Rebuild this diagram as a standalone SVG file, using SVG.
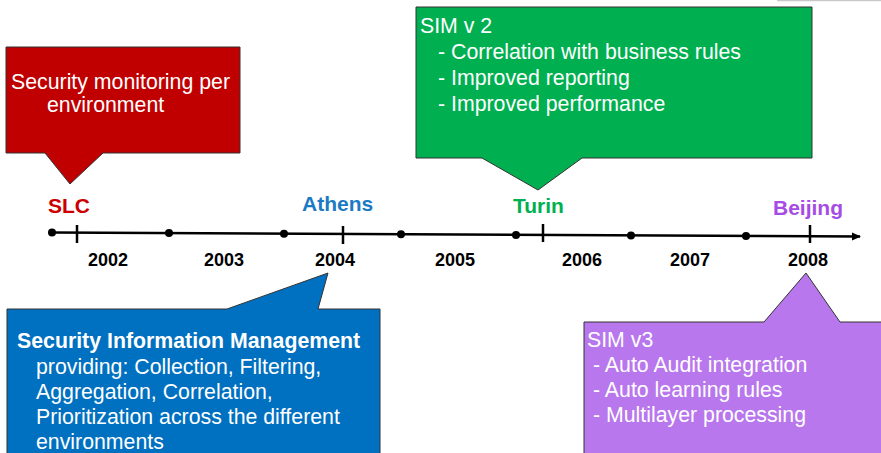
<svg xmlns="http://www.w3.org/2000/svg" width="881" height="453" viewBox="0 0 881 453">
<defs>
<style>
.box{stroke:#333;stroke-width:1}
.t{font-family:"Liberation Sans",Arial,sans-serif;font-size:21.3px;fill:#fff}
.b{font-weight:bold}
.yr{font-family:"Liberation Sans",Arial,sans-serif;font-size:18px;font-weight:bold;fill:#000;text-anchor:middle}
.city{font-family:"Liberation Sans",Arial,sans-serif;font-size:21px;font-weight:bold}
.dot{fill:#000}
.tick{stroke:#000;stroke-width:2.5}
</style>
<marker id="arr" markerWidth="10" markerHeight="10" refX="8" refY="5" orient="auto" markerUnits="userSpaceOnUse">
<path d="M0,1 L9,5 L0,9 Z" fill="#000"/>
</marker>
</defs>
<rect width="881" height="453" fill="#fff"/>
<line x1="777" y1="0.5" x2="881" y2="0.5" stroke="#c8c8c8" stroke-width="1.5"/>

<g id="connectors">
<line x1="52" y1="232.5" x2="860" y2="236.5" stroke="#000" stroke-width="2.5" marker-end="url(#arr)"/>
<circle class="dot" cx="52" cy="232.5" r="4"/>
<circle class="dot" cx="169" cy="233" r="4"/>
<circle class="dot" cx="284" cy="233.8" r="4"/>
<circle class="dot" cx="401" cy="234.3" r="4"/>
<circle class="dot" cx="516" cy="235" r="4"/>
<circle class="dot" cx="631" cy="235.5" r="4"/>
<circle class="dot" cx="746" cy="236" r="4"/>
<line class="tick" x1="77" y1="225" x2="77" y2="243"/>
<line class="tick" x1="343" y1="226" x2="343" y2="244"/>
<line class="tick" x1="543" y1="224" x2="543" y2="242"/>
<line class="tick" x1="810" y1="225" x2="810" y2="243"/>
</g>

<g id="years">
<text class="yr" x="108" y="266">2002</text>
<text class="yr" x="224" y="266">2003</text>
<text class="yr" x="335" y="266">2004</text>
<text class="yr" x="455" y="266">2005</text>
<text class="yr" x="582" y="266">2006</text>
<text class="yr" x="690" y="266">2007</text>
<text class="yr" x="808" y="266">2008</text>
</g>

<g id="cities">
<text class="city" x="48" y="213" fill="#CC0000">SLC</text>
<text class="city" x="302" y="211" fill="#1B7AC4">Athens</text>
<text class="city" x="513" y="213" fill="#00B050">Turin</text>
<text class="city" x="773" y="215" fill="#A64BE6">Beijing</text>
</g>

<g id="slc-callout">
<path class="box" d="M6,47 H240 V153 H103 L70,184 L45,153 H6 Z" fill="#C00000"/>
<text class="t" x="11" y="89">Security monitoring per</text>
<text class="t" x="47" y="112">environment</text>
</g>

<g id="turin-callout">
<path class="box" d="M416,7 H812 V158 H582 L538,190 L482,158 H416 Z" fill="#00B050"/>
<text class="t" x="420" y="33">SIM v 2</text>
<text class="t" x="438" y="59">- Correlation with business rules</text>
<text class="t" x="438" y="85">- Improved reporting</text>
<text class="t" x="438" y="111">- Improved performance</text>
</g>

<g id="athens-callout">
<path class="box" d="M7,309 H227 L328,273 L318,309 H380 V460 H7 Z" fill="#0070C0"/>
<text class="t b" x="17" y="348">Security Information Management</text>
<text class="t" x="36" y="374">providing: Collection, Filtering,</text>
<text class="t" x="36" y="399">Aggregation, Correlation,</text>
<text class="t" x="36" y="424">Prioritization across the different</text>
<text class="t" x="36" y="449">environments</text>
</g>

<g id="beijing-callout">
<path class="box" d="M584,322 H764 L806,273 L840,322 H890 V460 H584 Z" fill="#B877EC"/>
<text class="t" x="587" y="347">SIM v3</text>
<text class="t" x="593" y="372">- Auto Audit integration</text>
<text class="t" x="593" y="397">- Auto learning rules</text>
<text class="t" x="593" y="422">- Multilayer processing</text>
</g>
</svg>
